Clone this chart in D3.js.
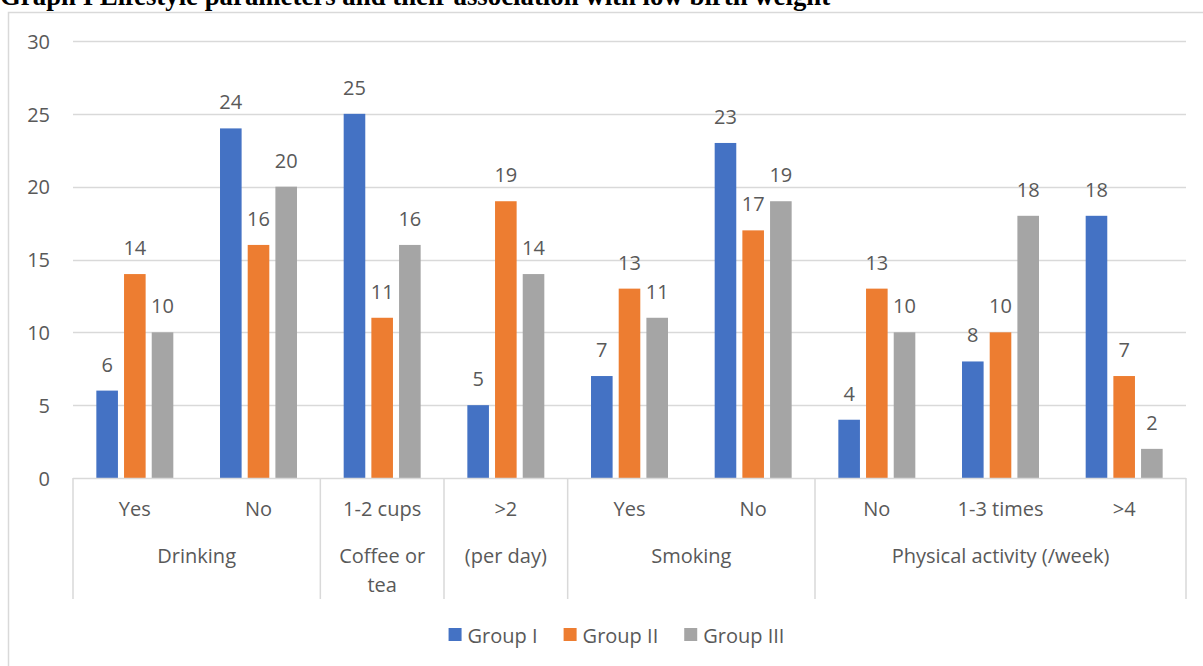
<!DOCTYPE html>
<html>
<head>
<meta charset="utf-8">
<script src="https://cdn.jsdelivr.net/npm/d3@7"></script>
<style>
  html, body { margin: 0; padding: 0; background: #fff; }
  svg { display: block; }
</style>
</head>
<body>
<svg id="chart" width="1203" height="666"></svg>
<script>
const categories = ["Yes", "No", "1-2 cups", ">2", "Yes", "No", "No", "1-3 times", ">4"];
const groupLabels = [
  { lines: ["Drinking"], span: 2 },
  { lines: ["Coffee or", "tea"], span: 1 },
  { lines: ["(per day)"], span: 1 },
  { lines: ["Smoking"], span: 2 },
  { lines: ["Physical activity (/week)"], span: 3 }
];
const seriesNames = ["Group I", "Group II", "Group III"];
const groupI = [6, 24, 25, 5, 7, 23, 4, 8, 18];
const groupII = [14, 16, 11, 19, 13, 17, 13, 10, 7];
const groupIII = [10, 20, 16, 14, 11, 19, 10, 18, 2];
const yTicks = [0, 5, 10, 15, 20, 25, 30];
const colors = ["#4472C4", "#ED7D31", "#A5A5A5"];
const titleText = "Graph I Lifestyle parameters and their association with low birth weight";

const seriesValues = [groupI, groupII, groupIII];
const svg = d3.select("#chart");
const font = "'Open Sans', sans-serif";
const textColor = "#595959";
const gridColor = "#D9D9D9";

const plotLeft = 73, plotRight = 1186, plotTop = 41, plotBottom = 478;

// outer chart border
svg.append("rect")
  .attr("x", 8.5).attr("y", 12.5)
  .attr("width", 1400).attr("height", 800)
  .attr("fill", "none").attr("stroke", gridColor).attr("stroke-width", 1.5);

// title (partly cut off at the top, as in the reference)
svg.append("text")
  .attr("x", 0).attr("y", 5)
  .attr("font-family", "'Liberation Serif', 'Times New Roman', serif")
  .attr("font-weight", "bold")
  .attr("font-size", 26.8)
  .attr("fill", "#000")
  .text(titleText);

const x0 = d3.scaleBand().domain(d3.range(categories.length)).range([plotLeft, plotRight]).padding(0);
const x1 = d3.scaleBand().domain(d3.range(seriesNames.length)).range([0, x0.bandwidth()])
  .paddingInner(0.22).paddingOuter(0.843);
const y = d3.scaleLinear().domain([0, 30]).range([plotBottom, plotTop]);

// gridlines
svg.append("g").selectAll("line").data(yTicks.filter(t => t > 0)).join("line")
  .attr("x1", plotLeft).attr("x2", plotRight)
  .attr("y1", d => Math.round(y(d)) + 0.5).attr("y2", d => Math.round(y(d)) + 0.5)
  .attr("stroke", gridColor).attr("stroke-width", 1.5);

// y axis labels
const yAxis = d3.axisLeft(y).tickValues(yTicks).tickSize(0).tickPadding(0);
const yg = svg.append("g").attr("transform", `translate(${50},0)`).call(yAxis);
yg.select(".domain").remove();
yg.selectAll("text")
  .attr("font-family", font).attr("font-size", 20).attr("fill", textColor)
  .attr("dy", "0.36em");

// bars
const cg = svg.append("g").selectAll("g").data(categories).join("g")
  .attr("transform", (d, i) => `translate(${x0(i)},0)`);
cg.selectAll("rect").data((d, i) => seriesValues.map((s, k) => ({ k, v: s[i] }))).join("rect")
  .attr("x", d => x1(d.k)).attr("width", x1.bandwidth())
  .attr("y", d => y(d.v)).attr("height", d => y(0) - y(d.v))
  .attr("fill", d => colors[d.k]);
cg.selectAll("text").data((d, i) => seriesValues.map((s, k) => ({ k, v: s[i] }))).join("text")
  .attr("x", d => x1(d.k) + x1.bandwidth() / 2)
  .attr("y", d => y(d.v) - 19)
  .attr("text-anchor", "middle")
  .attr("font-family", font).attr("font-size", 20).attr("fill", textColor)
  .text(d => d.v);

// category axis line
svg.append("line")
  .attr("x1", plotLeft).attr("x2", plotRight).attr("y1", plotBottom + 0.5).attr("y2", plotBottom + 0.5)
  .attr("stroke", gridColor).attr("stroke-width", 1.5);

// category labels (level 1)
const xAxis = d3.axisBottom(x0).tickSize(0).tickPadding(0).tickFormat(i => categories[i]);
const xg = svg.append("g").attr("transform", `translate(0,${516})`).call(xAxis);
xg.select(".domain").remove();
xg.selectAll("text")
  .attr("font-family", font).attr("font-size", 20).attr("fill", textColor)
  .attr("dy", 0).attr("y", 0);

// group separators and labels (level 2)
let idx = 0;
const seps = [0];
groupLabels.forEach(g => { idx += g.span; seps.push(idx); });
svg.append("g").selectAll("line").data(seps).join("line")
  .attr("x1", d => (d < categories.length ? x0(d) : plotRight))
  .attr("x2", d => (d < categories.length ? x0(d) : plotRight))
  .attr("y1", plotBottom).attr("y2", 599)
  .attr("stroke", gridColor).attr("stroke-width", 1.5);

const gl = svg.append("g");
groupLabels.forEach((g, gi) => {
  const start = seps[gi], end = seps[gi + 1];
  const xs = x0(start);
  const xe = end < categories.length ? x0(end) : plotRight;
  g.lines.forEach((line, li) => {
    gl.append("text")
      .attr("x", (xs + xe) / 2).attr("y", 563 + li * 29)
      .attr("text-anchor", "middle")
      .attr("font-family", font).attr("font-size", 20).attr("fill", textColor)
      .text(line);
  });
});

// legend
const legend = svg.append("g");
const items = legend.selectAll("g").data(seriesNames).join("g");
items.append("rect").attr("width", 13).attr("height", 13).attr("y", 628)
  .attr("fill", (d, i) => colors[i]);
items.append("text").attr("x", 19).attr("y", 643)
  .attr("font-family", font).attr("font-size", 20).attr("fill", textColor)
  .text(d => d);
const widths = [];
items.each(function () {
  widths.push(19 + d3.select(this).select("text").node().getComputedTextLength());
});
const gap = 26;
const total = d3.sum(widths) + gap * (widths.length - 1);
let lx = 616.5 - total / 2;
items.attr("transform", (d, i) => {
  const t = `translate(${lx},0)`;
  lx += widths[i] + gap;
  return t;
});
</script>
</body>
</html>
